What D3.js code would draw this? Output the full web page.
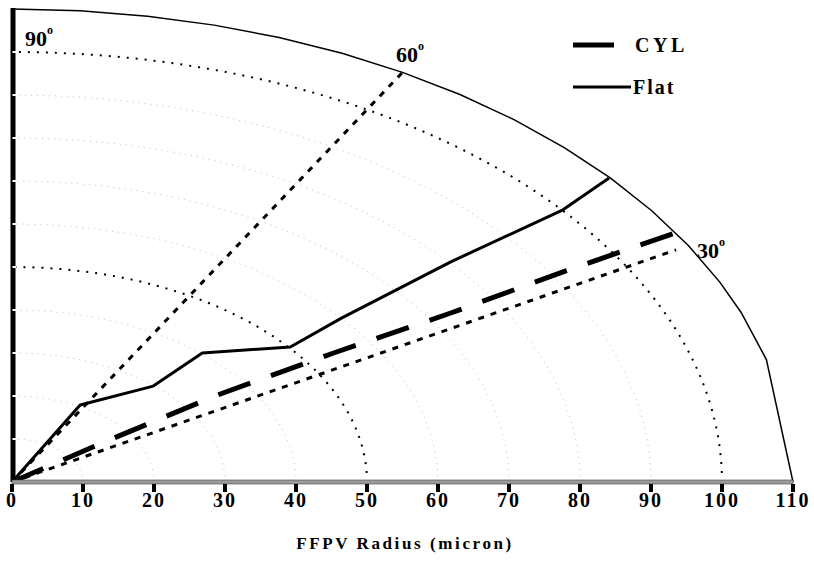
<!DOCTYPE html>
<html>
<head>
<meta charset="utf-8">
<script src="https://cdn.jsdelivr.net/npm/d3@7"></script>
<style>
  body { margin: 0; background: #fff; }
  text { font-family: "Liberation Serif", "Times New Roman", serif; fill: #000; }
</style>
</head>
<body>
<div id="chart"></div>
<script>
// values (x, y in micron)
const flatX = [0, 9.6, 19.9, 26.8, 39.2, 46.4, 61.8, 77.6, 84.1];
const flatY = [0, 17.9, 22.3, 30.0, 31.4, 38.1, 51.2, 63.3, 70.7];
const cylX = [0, 13.0, 28.9, 45.3, 61.8, 78.0, 93.7];
const cylY = [0, 9.3, 20.2, 30.0, 39.3, 49.1, 58.1];

const refAngles = [30, 60];
const refLengths = [108, 110];
const minorRadii = [10, 20, 30, 40, 60, 70, 80, 90];
const majorRadii = [50, 100];
const outerRadius = 110;
const outerAngles = [0, 15, 21, 25, 30, 35, 40, 45, 50, 55, 60, 65, 70, 75, 80, 85, 90];
const xTicks = [0, 10, 20, 30, 40, 50, 60, 70, 80, 90, 100, 110];
const yTicks = [10, 20, 30, 40, 50, 60, 70, 80, 90, 100];

const width = 814, height = 567;
const svg = d3.select("#chart").append("svg")
  .attr("width", width)
  .attr("height", height);

const x = d3.scaleLinear().domain([0, 110]).range([12, 793]);
const y = d3.scaleLinear().domain([0, 110]).range([482, 9]);

const rad = (a) => (a * Math.PI) / 180;
const polar = (r, a) => [r * Math.cos(rad(a)), r * Math.sin(rad(a))];
const line = d3.line().x((d) => x(d[0])).y((d) => y(d[1]));
const arc = (r) => line(d3.range(0, 90.5, 1).map((a) => polar(r, a)));

// grid arcs
svg.append("g").selectAll("path")
  .data(minorRadii)
  .join("path")
  .attr("d", arc)
  .attr("fill", "none")
  .attr("stroke", "#bdbdbd")
  .attr("stroke-width", 1)
  .attr("stroke-dasharray", "1,5");

svg.append("g").selectAll("path")
  .data(majorRadii)
  .join("path")
  .attr("d", arc)
  .attr("fill", "none")
  .attr("stroke", "#000")
  .attr("stroke-width", 2)
  .attr("stroke-dasharray", "2,7");

// outer boundary
svg.append("path")
  .attr("d", line(outerAngles.map((a) => polar(outerRadius, a))))
  .attr("fill", "none")
  .attr("stroke", "#000")
  .attr("stroke-width", 1.5);

// 30 / 60 degree lines
svg.append("g").selectAll("path")
  .data(refAngles)
  .join("path")
  .attr("d", (a, i) => line([[0, 0], polar(refLengths[i], a)]))
  .attr("stroke", "#000")
  .attr("stroke-width", 3)
  .attr("stroke-dasharray", "6,7");

// series
svg.append("path")
  .attr("d", line(cylX.map((v, i) => [v, cylY[i]])))
  .attr("fill", "none")
  .attr("stroke", "#000")
  .attr("stroke-width", 5)
  .attr("stroke-dasharray", "34,22");

svg.append("path")
  .attr("d", line(flatX.map((v, i) => [v, flatY[i]])))
  .attr("fill", "none")
  .attr("stroke", "#000")
  .attr("stroke-width", 3)
  .attr("stroke-linejoin", "round");

// y axis bar with white ticks
svg.append("rect")
  .attr("x", 10.5).attr("y", y(110) - 1)
  .attr("width", 5).attr("height", y(0) - y(110) + 1)
  .attr("fill", "#000");
svg.append("g").selectAll("line")
  .data(yTicks)
  .join("line")
  .attr("x1", 12.5).attr("x2", 16)
  .attr("y1", (d) => y(d)).attr("y2", (d) => y(d))
  .attr("stroke", "#fff")
  .attr("stroke-width", 2);

// x axis bar
svg.append("rect")
  .attr("x", x(0)).attr("y", y(0) - 2)
  .attr("width", x(110) - x(0)).attr("height", 4)
  .attr("fill", "#9a9a9a")
  .attr("stroke", "#444")
  .attr("stroke-width", 0.6);

const xAxis = svg.append("g");
xAxis.selectAll("line")
  .data(xTicks)
  .join("line")
  .attr("x1", (d) => x(d)).attr("x2", (d) => x(d))
  .attr("y1", y(0) + 2).attr("y2", y(0) + 10)
  .attr("stroke", "#000")
  .attr("stroke-width", 4);
xAxis.selectAll("text")
  .data(xTicks)
  .join("text")
  .attr("x", (d) => x(d))
  .attr("y", 507)
  .attr("text-anchor", "middle")
  .attr("font-size", 20)
  .attr("font-weight", "bold")
  .attr("letter-spacing", 2)
  .text((d) => d);

svg.append("text")
  .attr("x", 405)
  .attr("y", 549)
  .attr("text-anchor", "middle")
  .attr("font-size", 17)
  .attr("font-weight", "bold")
  .attr("letter-spacing", 2.6)
  .text("FFPV Radius (micron)");

// angle labels
const angleLabels = [
  { t: "90", x: 25, y: 46 },
  { t: "60", x: 396, y: 62 },
  { t: "30", x: 697, y: 258 },
];
angleLabels.forEach((d) => {
  const t = svg.append("text")
    .attr("x", d.x).attr("y", d.y)
    .attr("font-size", 22)
    .attr("font-weight", "bold");
  t.append("tspan").text(d.t);
  t.append("tspan").attr("dy", -12).attr("font-size", 12).text("o");
});

// legend
const legend = [
  { name: "CYL", w: 5, x2: 614, y: 45, tx: 635, ls: 3.5 },
  { name: "Flat", w: 3, x2: 631, y: 87, tx: 633, ls: 2 },
];
legend.forEach((d) => {
  svg.append("line")
    .attr("x1", 573).attr("x2", d.x2)
    .attr("y1", d.y).attr("y2", d.y)
    .attr("stroke", "#000")
    .attr("stroke-width", d.w);
  svg.append("text")
    .attr("x", d.tx)
    .attr("y", d.y + 7)
    .attr("font-size", 20)
    .attr("font-weight", "bold")
    .attr("letter-spacing", d.ls)
    .text(d.name);
});
</script>
</body>
</html>
